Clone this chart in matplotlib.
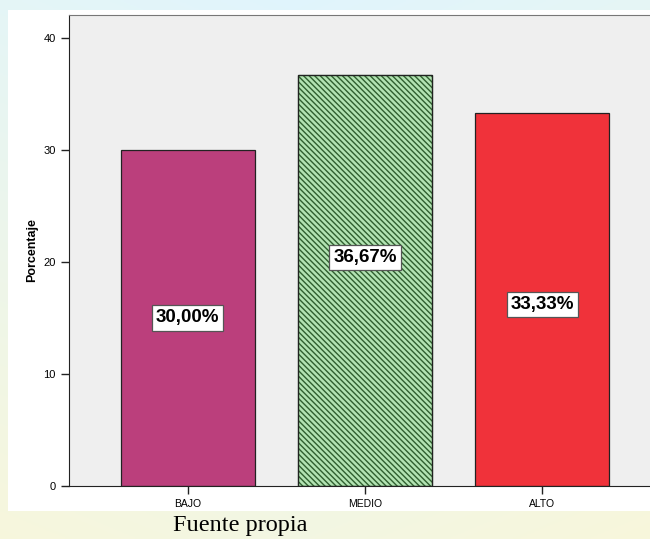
import numpy as np
import matplotlib
matplotlib.use("Agg")
import matplotlib.pyplot as plt
from matplotlib.patches import Rectangle

# data
categorias = ["BAJO", "MEDIO", "ALTO"]
porcentajes = [30.00, 36.67, 33.33]
etiquetas = ["30,00%", "36,67%", "33,33%"]
yticks = [0, 10, 20, 30, 40]

colores = ["#bb3f7c", "#b2e3b2", "#f0323a"]
hatches = [None, "\\\\\\\\\\\\", None]
label_y = [15.0, 20.4, 16.2]

plt.rcParams["font.family"] = ["Liberation Sans", "DejaVu Sans"]
plt.rcParams["hatch.linewidth"] = 1.0

fig = plt.figure(figsize=(6.5, 5.39), dpi=100)
W, H = 650, 539

# blurred pastel background behind the chart
bg = fig.add_axes([0, 0, 1, 1])
gx = np.linspace(0, 1, 200)
gy = np.linspace(0, 1, 200)
X, Y = np.meshgrid(gx, gy)
blue = np.array([0.88, 0.96, 0.99])
yellow = np.array([1.0, 0.97, 0.82])
t = np.clip(0.6 * Y + 0.3 * np.abs(X - 0.45), 0, 1)[..., None]
img = blue * (1 - t) + yellow * t
bg.imshow(img, extent=[0, 1, 0, 1], aspect="auto", origin="upper")
bg.set_xlim(0, 1)
bg.set_ylim(0, 1)
bg.axis("off")
bg.add_patch(Rectangle((8 / W, 1 - 511 / H), 1, (511 - 10) / H,
                       facecolor="white", edgecolor="none"))
bg.text(240 / W, 1 - 526 / H, "Fuente propia", family="Liberation Serif",
        fontsize=17.5, ha="center", va="center", color="black")

ax = fig.add_axes([69 / W, 1 - 486 / H, (650 - 69) / W, (486 - 15) / H])
ax.set_facecolor("#efefef")
x = np.arange(len(categorias))
for i in range(len(categorias)):
    ax.bar(x[i], porcentajes[i], width=0.755, color=colores[i],
           edgecolor="#222222", linewidth=0.9, hatch=hatches[i], zorder=2)
    ax.text(x[i], label_y[i], etiquetas[i], ha="center", va="center",
            fontsize=13.5, fontweight="bold", zorder=3,
            bbox=dict(boxstyle="square,pad=0.22", facecolor="white",
                      edgecolor="#555555", linewidth=0.9))

# dark green stripes on the hatched bar
ax.patches[1].set_edgecolor("#2f5f2f")
ax.bar(x[1], porcentajes[1], width=0.755, facecolor="none",
       edgecolor="#222222", linewidth=0.9, zorder=2.5)

ax.set_xlim(-0.668, 2.606)
ax.set_ylim(0, 42.05)
ax.set_xticks(x)
ax.set_xticklabels(categorias, fontsize=7.5)
ax.set_yticks(yticks)
ax.set_yticklabels([str(v) for v in yticks], fontsize=8)
ax.tick_params(axis="both", direction="out", length=6, width=1, color="#222222")
ax.set_ylabel("Porcentaje", fontsize=9, fontweight="bold", labelpad=4)
ax.spines["left"].set_color("#222222")
ax.spines["bottom"].set_color("#222222")
ax.spines["top"].set_color("#777777")
ax.spines["right"].set_visible(False)

fig.savefig("out.png", dpi=100)
